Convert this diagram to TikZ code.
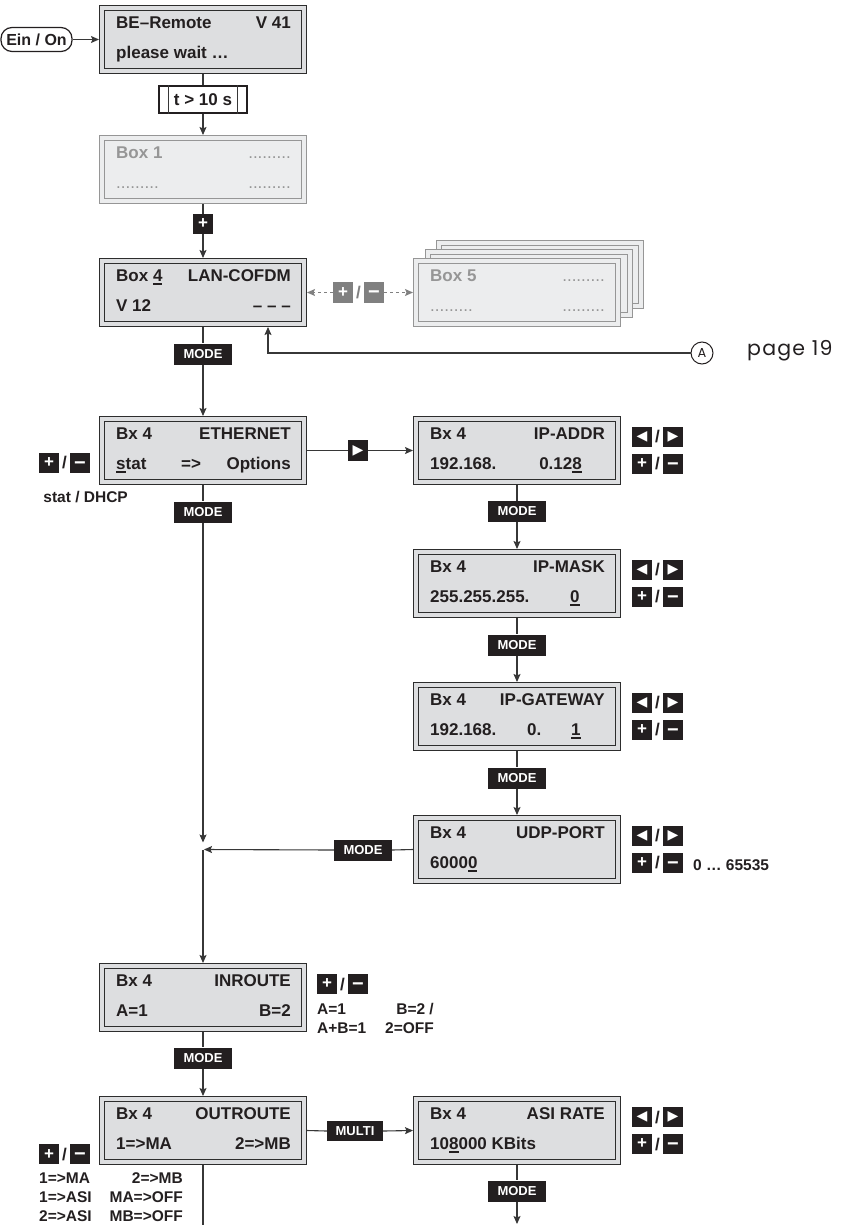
\documentclass[tikz,border=0pt]{standalone}
\usepackage{fontspec}
\setmainfont{Liberation Sans}
\newfontfamily\symfont{DejaVu Sans}
\newfontfamily\popfont[LetterSpace=6]{Poppins}
\newfontfamily\popfontA{Poppins}
\usetikzlibrary{arrows.meta,calc}
\definecolor{boxfill}{RGB}{221,222,224}
\definecolor{boxline}{RGB}{45,45,45}
\definecolor{dimfill}{RGB}{236,237,238}
\definecolor{dimline}{RGB}{150,150,150}
\definecolor{dimtxt}{RGB}{150,150,150}
\definecolor{keyblack}{RGB}{35,31,32}
\definecolor{keygrey}{RGB}{128,128,128}
\definecolor{linec}{RGB}{55,55,55}
\definecolor{txtc}{RGB}{35,31,32}
\newcommand\ulc[1]{\setbox0\hbox{#1}\rlap{\rule[-3.5pt]{\wd0}{1.6pt}}\box0\relax}
\newcommand\minussym{\smash{\raisebox{-6.4pt}{\fontsize{20}{20}\selectfont −}}}
\newcommand\lcd[9]{%
  \node[#1] (#3) at ({#4+104},{#5+34.5}) {};
  \node[#2,anchor=base west] (#3-tl) at ({#4+17},{#5+23.5}) {#6};
  \node[#2,anchor=base east] (#3-tr) at ({#4+192},{#5+23.5}) {#7};
  \node[#2,anchor=base west] (#3-bl) at ({#4+17},{#5+53.5}) {#8};
  \node[#2,anchor=base east] (#3-br) at ({#4+192},{#5+53.5}) {#9};}
\newcommand\navkeys[4]{% prefix, x of left key, y row1, y row2
  \node[sk] (#1-l) at (#2,#3) {\symfont\fontsize{14}{14}\selectfont ◀};
  \node[slash] (#1-s1) at ({#2+15.5},#3) {/};
  \node[sk] (#1-r) at ({#2+31},#3) {\symfont\fontsize{14}{14}\selectfont ▶};
  \node[sk] (#1-p) at (#2,#4) {+};
  \node[slash] (#1-s2) at ({#2+15.5},#4) {/};
  \node[sk] (#1-m) at ({#2+31},#4) {\minussym};}
\newcommand\pmkeys[4]{% prefix, x of left key, y, style
  \node[#4] (#1-p) at (#2,#3) {+};
  \node[slash,#4text] (#1-s) at ({#2+15.5},#3) {/};
  \node[#4] (#1-m) at ({#2+31},#3) {\minussym};}
\begin{document}
\begin{tikzpicture}[x=1pt,y=-1pt,
  disp/.style={draw=boxline, line width=1.3, double=boxfill, double distance=3.4,
     fill=boxfill, minimum width=202, minimum height=63, inner sep=0, outer sep=3},
  dimdisp/.style={disp, draw=dimline, double=dimfill, fill=dimfill},
  dt/.style={font=\fontsize{17}{17}\selectfont\bfseries, inner sep=0, text=txtc},
  dimdt/.style={dt, text=dimtxt},
  side/.style={font=\fontsize{15.5}{15.5}\selectfont\bfseries, inner sep=0, text=txtc},
  key/.style={fill=keyblack, text=white, font=\fontsize{13}{13}\selectfont\bfseries,
     minimum width=58, minimum height=21, inner sep=0},
  sk/.style={fill=keyblack, text=white, minimum width=20.5, minimum height=20.5, inner sep=0,
     font=\fontsize{17}{17}\selectfont\bfseries},
  gsk/.style={sk, fill=keygrey},
  sktext/.style={},
  gsktext/.style={text=keygrey},
  slash/.style={font=\fontsize{17}{17}\selectfont\bfseries, inner sep=0, text=txtc},
  ln/.style={draw=linec, line width=1.1},
  arr/.style={ln, -{Stealth[length=8,width=7,inset=1.5]}},
  darr/.style={draw=keygrey, line width=1.1, dash pattern=on 3 off 3,
     -{Stealth[length=8,width=7,inset=1.5]}}
]
\useasboundingbox (0,0) rectangle (841,1225);

% --- top
\node[draw=txtc, line width=1.2, rounded corners=11, minimum width=71, minimum height=24,
  inner sep=0, font=\fontsize{16}{16}\selectfont\bfseries, text=txtc] (ein) at (36.5,39.5) {Ein / On};
\lcd{disp}{dt}{be}{99}{5}{BE–Remote}{V 41}{please wait …}{}
\node[draw=txtc, line width=1.1, fill=white, minimum width=88, minimum height=27, inner sep=0,
  font=\fontsize{17}{17}\selectfont\bfseries, text=txtc] (tbox) at (203,99.5) {t > 10 s};
\draw[ln] ([xshift=10]tbox.north west) -- ([xshift=10]tbox.south west);
\draw[ln] ([xshift=-10]tbox.north east) -- ([xshift=-10]tbox.south east);
\lcd{dimdisp}{dimdt}{box1}{99}{135}{Box 1}{\mdseries .........}{\mdseries .........}{\mdseries .........}
\node[sk, minimum height=20] (plus1) at (203,224) {+};
\lcd{disp}{dt}{box4}{99}{258}{Box \ulc{4}}{LAN-COFDM}{V 12}{– – –}

% box 5 stack
\node[dimdisp] (box5c) at (540,274.5) {};
\node[dimdisp] (box5b) at (529,283.5) {};
\lcd{dimdisp}{dimdt}{box5}{413}{258}{Box 5}{\mdseries .........}{\mdseries .........}{\mdseries .........}
\pmkeys{b5k}{343}{292.5}{gsk}

\node[circle, draw=txtc, line width=1, minimum size=22, inner sep=0,
  font=\popfontA\fontsize{13}{13}\selectfont, text=txtc] (circA) at (702,353) {A};
\node[anchor=base west, inner sep=0, font=\popfont\fontsize{20.5}{20.5}\selectfont, text=txtc]
  (page) at (747,355) {page 19};
\node[key] (mode1) at (203,354) {MODE};

% ethernet
\lcd{disp}{dt}{eth}{99}{416}{Bx 4}{ETHERNET}{\ulc{s}tat}{Options}
\node[dt, anchor=base west] (eth-arrow) at (181,469.5) {=>};
\pmkeys{ethk}{49}{463}{sk}
\node[side, anchor=base east] (eth-side) at (128,502) {stat / DHCP};
\node[key] (modeE) at (203,512) {MODE};
\node[sk] (keyR) at (358,450.5) {\symfont\fontsize{14}{14}\selectfont ▶};

% right column
\lcd{disp}{dt}{ipa}{413}{416}{Bx 4}{IP-ADDR}{192.168.}{}
\node[dt, anchor=base east] (ipa-v) at (582,469.5) {0.12\ulc{8}};
\navkeys{ipak}{642}{437}{464}
\node[key] (mode2) at (517,511.5) {MODE};

\lcd{disp}{dt}{ipm}{413}{549}{Bx 4}{IP-MASK}{255.255.255.}{}
\node[dt, anchor=base west] (ipm-v) at (570,602.5) {\ulc{0}};
\navkeys{ipmk}{642}{570}{597}
\node[key] (mode3) at (517,645) {MODE};

\lcd{disp}{dt}{ipg}{413}{682}{Bx 4}{IP-GATEWAY}{192.168.}{}
\node[dt, anchor=base west] (ipg-v1) at (527,735.5) {0.};
\node[dt, anchor=base west] (ipg-v2) at (571,735.5) {\ulc{1}};
\navkeys{ipgk}{642}{703}{730}
\node[key] (mode4) at (517,778) {MODE};

\lcd{disp}{dt}{udp}{413}{815}{Bx 4}{UDP-PORT}{6000\ulc{0}}{}
\navkeys{udpk}{642}{836}{863}
\node[side, anchor=base west] (udp-range) at (693,870) {0 … 65535};
\node[key] (modeU) at (363,850) {MODE};
\coordinate (j) at (203,849.5);

% inroute
\lcd{disp}{dt}{inr}{99}{963}{Bx 4}{INROUTE}{A=1}{B=2}
\pmkeys{inrk}{327}{984}{sk}
\node[side, anchor=base west] (inr-a) at (317,1014) {A=1};
\node[side, anchor=base east] (inr-b) at (434,1014) {B=2 /};
\node[side, anchor=base west] (inr-c) at (317,1033) {A+B=1};
\node[side, anchor=base east] (inr-d) at (434,1033) {2=OFF};
\node[key] (modeI) at (203,1058) {MODE};

% outroute
\lcd{disp}{dt}{outr}{99}{1096}{Bx 4}{OUTROUTE}{1=>MA}{2=>MB}
\pmkeys{outk}{49}{1154}{sk}
\node[side, anchor=base west] (out-a1) at (39,1183) {1=>MA};
\node[side, anchor=base east] (out-b1) at (183,1183) {2=>MB};
\node[side, anchor=base west] (out-a2) at (39,1202) {1=>ASI};
\node[side, anchor=base east] (out-b2) at (183,1202) {MA=>OFF};
\node[side, anchor=base west] (out-a3) at (39,1221) {2=>ASI};
\node[side, anchor=base east] (out-b3) at (183,1221) {MB=>OFF};
\node[key, minimum width=56, minimum height=20] (multi) at (355,1131) {MULTI};
\coordinate (bot) at (203,1225);

\lcd{disp}{dt}{asi}{413}{1096}{Bx 4}{ASI RATE}{10\ulc{8}000 KBits}{}
\navkeys{asik}{642}{1117}{1144}
\node[key] (modeA) at (517,1191) {MODE};
\coordinate (abot) at (517,1224);

% --- connectors
\draw[arr] (ein.east) -- (be.west);
\draw[ln] (be.south) -- (tbox.north);
\draw[arr] (tbox.south) -- (box1.north);
\draw[ln] (box1.south) -- (plus1.north);
\draw[arr] (plus1.south) -- (box4.north);
\draw[darr] (b5k-p.west) -- (box4.east);
\draw[darr] (b5k-m.east) -- (box5.west);
\draw[arr] (circA.west) -| ([xshift=65]box4.south);
\draw[ln] (box4.south) -- (mode1.north);
\draw[arr] (mode1.south) -- (eth.north);
\draw[ln] (eth.east) -- (keyR.west);
\draw[arr] (keyR.east) -- (ipa.west);
\draw[ln] (ipa.south) -- (mode2.north);
\draw[arr] (mode2.south) -- (ipm.north);
\draw[ln] (ipm.south) -- (mode3.north);
\draw[arr] (mode3.south) -- (ipg.north);
\draw[ln] (ipg.south) -- (mode4.north);
\draw[arr] (mode4.south) -- (udp.north);
\draw[ln] (udp.west) -- (modeU.east);
\draw[arr] (modeU.west) -- ([xshift=1]j);
\draw[ln] (eth.south) -- (modeE.north);
\draw[arr] (modeE.south) -- ([yshift=7]j);
\draw[arr] (j) -- (inr.north);
\draw[ln] (inr.south) -- (modeI.north);
\draw[arr] (modeI.south) -- (outr.north);
\draw[ln] (outr.east) -- (multi.west);
\draw[arr] (multi.east) -- (asi.west);
\draw[ln] (outr.south) -- (bot);
\draw[ln] (asi.south) -- (modeA.north);
\draw[arr] (modeA.south) -- (abot);
\end{tikzpicture}
\end{document}
